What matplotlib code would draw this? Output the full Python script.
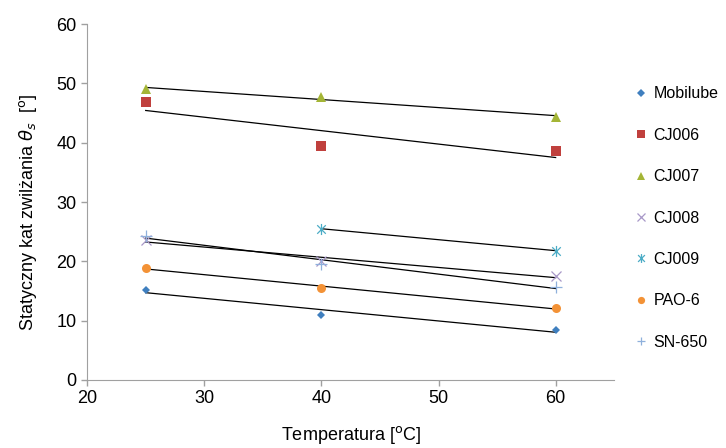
import numpy as np
import matplotlib
matplotlib.use("Agg")
import matplotlib.pyplot as plt
from matplotlib.path import Path

plt.rcParams['font.family'] = ['Liberation Sans', 'DejaVu Sans']

# --- data ---
temps = [25, 40, 60]
temps_cj009 = [40, 60]

mobilube = [15.2, 11.0, 8.4]
cj006 = [46.9, 39.5, 38.6]
cj007 = [49.1, 47.7, 44.4]
cj008 = [23.6, 20.1, 17.5]
cj009 = [25.5, 21.8]
pao6 = [18.9, 15.5, 12.1]
sn650 = [24.3, 19.6, 15.7]

x_ticks = [20, 30, 40, 50, 60]
y_ticks = [0, 10, 20, 30, 40, 50, 60]

# thin asterisk (x with a vertical bar), like the Excel star marker
star = Path([(-1, -1), (1, 1), (-1, 1), (1, -1), (0, -1.3), (0, 1.3)],
            [Path.MOVETO, Path.LINETO, Path.MOVETO, Path.LINETO,
             Path.MOVETO, Path.LINETO])

series = [
    ("Mobilube", temps, mobilube, "D", "#3F7FBF", 4.5, False),
    ("CJ006", temps, cj006, "s", "#C0403D", 7, False),
    ("CJ007", temps, cj007, "^", "#A4B536", 7.5, False),
    ("CJ008", temps, cj008, "x", "#A898C8", 7, True),
    ("CJ009", temps_cj009, cj009, star, "#4BACC6", 8, True),
    ("PAO-6", temps, pao6, "o", "#F39236", 6.5, False),
    ("SN-650", temps, sn650, "+", "#8FB0DC", 8, True),
]

fig = plt.figure(figsize=(7.26, 4.48), dpi=100)
ax = fig.add_axes([0.12, 0.152, 0.726, 0.794])

for name, xs, ys, mk, col, ms, thin in series:
    # linear trend line (black) + markers
    k, b = np.polyfit(xs, ys, 1)
    xx = np.array([xs[0], xs[-1]])
    ax.plot(xx, k * xx + b, color="black", lw=0.9, zorder=2)
    if thin:
        ax.plot(xs, ys, ls="none", marker=mk, color=col, ms=ms, mew=0.9,
                label=name, zorder=3)
    else:
        ax.plot(xs, ys, ls="none", marker=mk, color=col, ms=ms, mew=0,
                label=name, zorder=3)

ax.set_xlim(20, 65)
ax.set_ylim(0, 60)
ax.set_xticks(x_ticks)
ax.set_yticks(y_ticks)
ax.tick_params(labelsize=13, color="#A0A0A0", length=4, width=1)
for s in ("top", "right"):
    ax.spines[s].set_visible(False)
for s in ("left", "bottom"):
    ax.spines[s].set_color("#A0A0A0")

ax.set_xlabel("Temperatura [$^{\\mathrm{o}}$C]", fontsize=13, labelpad=12)
ax.set_ylabel("Statyczny kat zwilżania $\\theta_s$  [$^{\\mathrm{o}}$]", fontsize=13)
ax.yaxis.set_label_coords(-0.092, 0.47)

leg = ax.legend(loc="center left", bbox_to_anchor=(1.012, 0.455), frameon=False,
                fontsize=11.5, handlelength=0.8, handletextpad=0.35,
                labelspacing=1.65, markerscale=0.8)

fig.savefig("out.png", dpi=100)
